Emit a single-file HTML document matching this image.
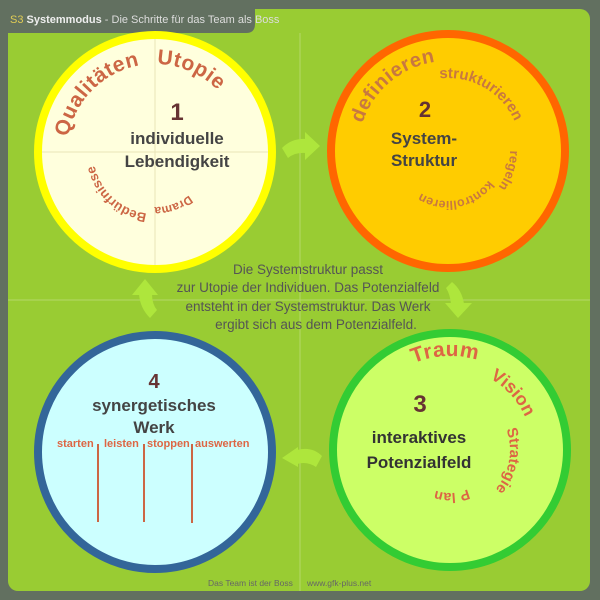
<!DOCTYPE html>
<html><head><meta charset="utf-8"><style>
html,body{margin:0;padding:0;width:600px;height:600px;overflow:hidden;background:#627060;}
svg{display:block;font-family:"Liberation Sans",sans-serif;}
</style></head><body>
<svg width="600" height="600" viewBox="0 0 600 600" xmlns="http://www.w3.org/2000/svg">
<defs>
<path id="c1a" d="M67,152 A88,88 0 1 1 243,152 A88,88 0 1 1 67,152"/>
<path id="c1b" d="M93,152 A62,62 0 1 1 217,152 A62,62 0 1 1 93,152"/>
<path id="c1c" d="M100,152 A55,55 0 1 1 210,152 A55,55 0 1 1 100,152"/>
<path id="c2a" d="M358,151 A90,90 0 1 1 538,151 A90,90 0 1 1 358,151"/>
<path id="c2b" d="M375,151 A73,73 0 1 1 521,151 A73,73 0 1 1 375,151"/>
<path id="c2c" d="M386,151 A62,62 0 1 1 510,151 A62,62 0 1 1 386,151"/>
<path id="c2d" d="M398,151 A50,50 0 1 1 498,151 A50,50 0 1 1 398,151"/>
<path id="c3a" d="M356,450 A94,94 0 1 1 544,450 A94,94 0 1 1 356,450"/>
<path id="c3b" d="M368,450 A82,82 0 1 1 532,450 A82,82 0 1 1 368,450"/>
<path id="c3c" d="M390,450 A60,60 0 1 1 510,450 A60,60 0 1 1 390,450"/>
<path id="c3d" d="M407,450 A43,43 0 1 1 493,450 A43,43 0 1 1 407,450"/>
</defs>
<rect x="0" y="0" width="600" height="600" fill="#627060"/>
<rect x="8" y="9" width="582" height="582" rx="10" fill="#99cc33"/>
<path d="M0,0 H255 V24 Q255,33 246,33 H0 Z" fill="#627060"/>
<text x="10" y="23" font-size="11"><tspan fill="#e0cc55">S3</tspan><tspan fill="#eeeeee" font-weight="bold"> Systemmodus</tspan><tspan fill="#dddddd"> - Die Schritte für das Team als Boss</tspan></text>
<line x1="300" y1="33" x2="300" y2="591" stroke="#b5d86a" stroke-width="1"/>
<line x1="8" y1="300" x2="590" y2="300" stroke="#b5d86a" stroke-width="1"/>

<g fill="#aee63c" stroke="none">
<path d="M320,146 L305,132 L305,160 Z"/>
<path d="M282,148 Q292,138 306,139 L306,153 Q295,152 288,158 Z"/>
<path d="M458,318 L445,303 L472,303 Z"/>
<path d="M452,282 Q462,290 464,304 L451,304 Q450,294 446,288 Z"/>
<path d="M282,458 L298,447 L298,467 Z"/>
<path d="M322,456 Q312,446 297,450 L297,464 Q307,461 316,467 Z"/>
<path d="M145,279 L132,295 L158,295 Z"/>
<path d="M150,318 Q140,308 139,294 L152,294 Q152,304 157,310 Z"/>
</g>

<circle cx="155" cy="152" r="117" fill="#ffffdd" stroke="#ffff00" stroke-width="8"/>
<line x1="155" y1="39" x2="155" y2="265" stroke="#e8e4b8" stroke-width="1"/>
<line x1="42" y1="152" x2="268" y2="152" stroke="#e8e4b8" stroke-width="1"/>
<g fill="#cc6644" font-weight="bold">
<text font-size="21" letter-spacing="0.5"><textPath href="#c1a" startOffset="15">Qualitäten</textPath></text>
<text font-size="21" letter-spacing="0.5"><textPath href="#c1a" startOffset="140">Utopie</textPath></text>
<text font-size="13"><textPath href="#c1b" startOffset="300">Bedürfnisse</textPath></text>
<text font-size="12"><textPath href="#c1c" startOffset="222">Drama</textPath></text>
</g>
<text x="177" y="120" font-size="24" font-weight="bold" fill="#663333" text-anchor="middle">1</text>
<text x="177" y="144" font-size="17" font-weight="bold" fill="#444444" text-anchor="middle">individuelle</text>
<text x="177" y="167" font-size="17" font-weight="bold" fill="#444444" text-anchor="middle">Lebendigkeit</text>

<circle cx="448" cy="151" r="117" fill="#ffcc00" stroke="#ff6600" stroke-width="8"/>
<g fill="#c87840" font-weight="bold">
<text font-size="20" letter-spacing="0.5"><textPath href="#c2a" startOffset="28">definieren</textPath></text>
<text font-size="15"><textPath href="#c2b" startOffset="106">strukturieren</textPath></text>
<text font-size="13"><textPath href="#c2c" startOffset="194">regeln</textPath></text>
<text font-size="12.5"><textPath href="#c2d" startOffset="188">kontrollieren</textPath></text>
</g>
<text x="425" y="117" font-size="22" font-weight="bold" fill="#663333" text-anchor="middle">2</text>
<text x="424" y="144" font-size="17" font-weight="bold" fill="#444444" text-anchor="middle">System-</text>
<text x="424" y="166" font-size="17" font-weight="bold" fill="#444444" text-anchor="middle">Struktur</text>

<circle cx="450" cy="450" r="117" fill="#ccff66" stroke="#33cc33" stroke-width="8"/>
<g fill="#dd6644" font-weight="bold">
<text font-size="21" letter-spacing="0.5"><textPath href="#c3a" startOffset="110">Traum</textPath></text>
<text font-size="18"><textPath href="#c3b" startOffset="170">Vision</textPath></text>
<text font-size="15"><textPath href="#c3c" startOffset="167">Strategie</textPath></text>
<text font-size="14"><textPath href="#c3d" startOffset="184">P lan</textPath></text>
</g>
<text x="420" y="412" font-size="24" font-weight="bold" fill="#663333" text-anchor="middle">3</text>
<text x="419" y="443" font-size="17" font-weight="bold" fill="#333333" text-anchor="middle">interaktives</text>
<text x="419" y="468" font-size="17" font-weight="bold" fill="#333333" text-anchor="middle">Potenzialfeld</text>

<circle cx="155" cy="452" r="117" fill="#ccffff" stroke="#336699" stroke-width="8"/>
<text x="154" y="388" font-size="20" font-weight="bold" fill="#663333" text-anchor="middle">4</text>
<text x="154" y="411" font-size="17" font-weight="bold" fill="#444444" text-anchor="middle">synergetisches</text>
<text x="154" y="433" font-size="17" font-weight="bold" fill="#444444" text-anchor="middle">Werk</text>
<g fill="#dd6644" font-size="11" font-weight="bold">
<text x="57" y="447">starten</text>
<text x="104" y="447">leisten</text>
<text x="147" y="447">stoppen</text>
<text x="195" y="447">auswerten</text>
</g>
<g stroke="#cc6644" stroke-width="2">
<line x1="98" y1="444" x2="98" y2="522"/>
<line x1="144" y1="444" x2="144" y2="522"/>
<line x1="192" y1="444" x2="192" y2="523"/>
</g>

<g fill="#555555" font-size="13.5" text-anchor="middle">
<text x="308" y="274">Die Systemstruktur passt</text>
<text x="308" y="292">zur Utopie der Individuen. Das Potenzialfeld</text>
<text x="308" y="311">entsteht in der Systemstruktur. Das Werk</text>
<text x="316" y="329">ergibt sich aus dem Potenzialfeld.</text>
</g>

<text x="208" y="586" font-size="8.5" fill="#666666">Das Team ist der Boss</text>
<text x="307" y="586" font-size="8.5" fill="#666666">www.gfk-plus.net</text>
</svg>
</body></html>
